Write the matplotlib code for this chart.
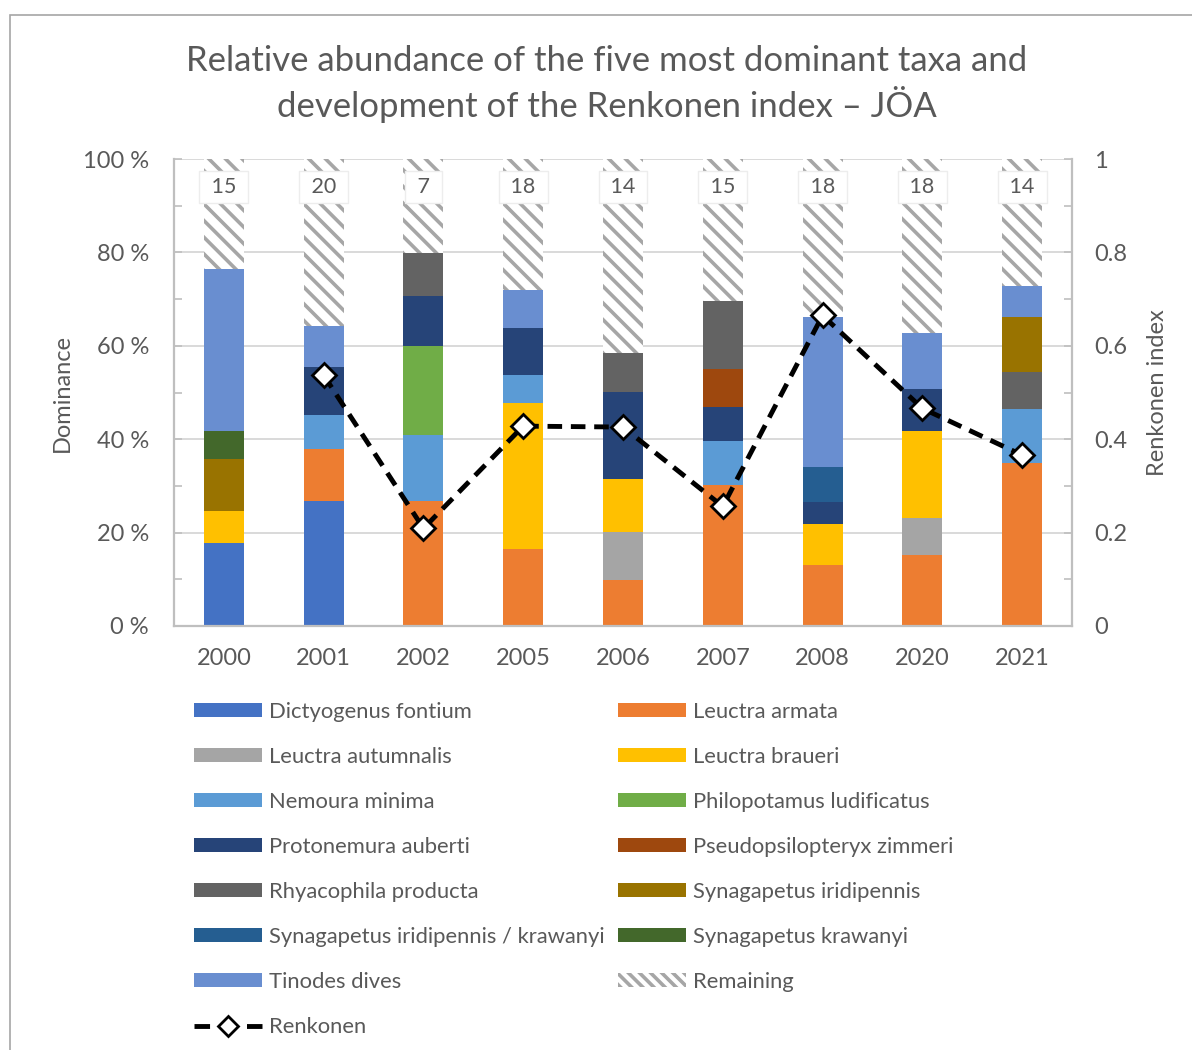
import matplotlib
matplotlib.use("Agg")
import matplotlib.pyplot as plt
import numpy as np
from matplotlib.patches import Patch, Rectangle
from matplotlib.lines import Line2D

plt.rcParams['font.family'] = ['Lato', 'DejaVu Sans']
plt.rcParams['hatch.linewidth'] = 2.6

years = ["2000", "2001", "2002", "2005", "2006", "2007", "2008", "2020", "2021"]

dictyogenus_fontium = [17.8, 26.8, 0, 0, 0, 0, 0, 0, 0]
leuctra_armata = [0, 11.0, 26.8, 16.4, 9.85, 30.2, 13.1, 15.2, 34.8]
leuctra_autumnalis = [0, 0, 0, 0, 10.35, 0, 0, 8.0, 0]
leuctra_braueri = [6.9, 0, 0, 31.3, 11.2, 0, 8.8, 18.6, 0]
nemoura_minima = [0, 7.4, 14.0, 6.0, 0, 9.5, 0, 0, 11.6]
philopotamus_ludificatus = [0, 0, 19.2, 0, 0, 0, 0, 0, 0]
protonemura_auberti = [0, 10.3, 10.7, 10.1, 18.7, 7.1, 4.7, 9.0, 0]
pseudopsilopteryx_zimmeri = [0, 0, 0, 0, 0, 8.3, 0, 0, 0]
rhyacophila_producta = [0, 0, 9.1, 0, 8.4, 14.6, 0, 0, 7.9]
synagapetus_iridipennis = [11.1, 0, 0, 0, 0, 0, 0, 0, 11.9]
synagapetus_irid_kraw = [0, 0, 0, 0, 0, 0, 7.5, 0, 0]
synagapetus_krawanyi = [6.0, 0, 0, 0, 0, 0, 0, 0, 0]
tinodes_dives = [34.6, 8.8, 0, 8.1, 0, 0, 32.1, 11.9, 6.7]
remaining = [23.6, 35.7, 20.2, 28.1, 41.5, 30.3, 33.8, 37.3, 27.1]
remaining_labels = [15, 20, 7, 18, 14, 15, 18, 18, 14]

renkonen = [np.nan, 0.537, 0.209, 0.428, 0.426, 0.256, 0.665, 0.466, 0.366]

taxa = [
    ("Dictyogenus fontium", dictyogenus_fontium, "#4472C4"),
    ("Leuctra armata", leuctra_armata, "#ED7D31"),
    ("Leuctra autumnalis", leuctra_autumnalis, "#A5A5A5"),
    ("Leuctra braueri", leuctra_braueri, "#FFC000"),
    ("Nemoura minima", nemoura_minima, "#5B9BD5"),
    ("Philopotamus ludificatus", philopotamus_ludificatus, "#70AD47"),
    ("Protonemura auberti", protonemura_auberti, "#264478"),
    ("Pseudopsilopteryx zimmeri", pseudopsilopteryx_zimmeri, "#9E480E"),
    ("Rhyacophila producta", rhyacophila_producta, "#636363"),
    ("Synagapetus iridipennis", synagapetus_iridipennis, "#997300"),
    ("Synagapetus iridipennis / krawanyi", synagapetus_irid_kraw, "#255E91"),
    ("Synagapetus krawanyi", synagapetus_krawanyi, "#43682B"),
    ("Tinodes dives", tinodes_dives, "#698ED0"),
]

TXT = "#595959"
W, H = 1192, 1050
fig = plt.figure(figsize=(W / 100, H / 100), dpi=100)

# chart border
fig.patches.append(Rectangle((10 / W, -0.1), 1.2, 1 - 15 / H + 0.1, transform=fig.transFigure,
                             fill=False, edgecolor="#A6A6A6", linewidth=1.2))

ax = fig.add_axes([174 / W, 1 - 626 / H, (1072 - 174) / W, (626 - 159) / H])
x = np.arange(len(years))
bottom = np.zeros(len(years))
handles = {}
for name, vals, color in taxa:
    vals = np.array(vals, dtype=float)
    ax.bar(x, vals, 0.4, bottom=bottom, color=color, linewidth=0, zorder=2)
    bottom += vals
    handles[name] = Patch(facecolor=color, edgecolor="none")

ax.bar(x, remaining, 0.4, bottom=bottom, facecolor="white", edgecolor="#A6A6A6",
       hatch="\\\\", linewidth=0, zorder=2)
handles["Remaining"] = Patch(facecolor="white", edgecolor="#A6A6A6", hatch="\\\\\\", linewidth=0)

# number of taxa shown on top of each bar
for xi, lab in zip(x, remaining_labels):
    ax.text(xi, 94, f" {lab} ", ha="center", va="center", fontsize=15.5, color=TXT, zorder=5,
            bbox=dict(boxstyle="square,pad=0.3", facecolor="white", edgecolor="#EDEDED", linewidth=1))

ax.set_xlim(-0.5, len(years) - 0.5)
ax.set_ylim(0, 100)
ax.set_yticks(np.arange(0, 101, 20))
ax.set_yticklabels([f"{v} %" for v in range(0, 101, 20)])
ax.set_yticks(np.arange(10, 100, 20), minor=True)
ax.set_xticks(x)
ax.set_xticklabels(years)
ax.grid(axis="y", color="#D9D9D9", linewidth=1.4, zorder=0)
ax.set_axisbelow(True)
for s in ["left", "bottom", "right"]:
    ax.spines[s].set_color("#BFBFBF")
    ax.spines[s].set_linewidth(1.6)
ax.spines["top"].set_visible(False)
ax.tick_params(axis="y", which="both", direction="in", length=6, width=1.2, color="#BFBFBF",
               labelsize=17, labelcolor=TXT, pad=18)
ax.tick_params(axis="x", length=0, labelsize=17, labelcolor=TXT, pad=15.5)
ax.set_ylabel("Dominance", fontsize=17, color=TXT, labelpad=7.5)

ax2 = ax.twinx()
ax2.set_ylim(0, 1)
ax2.set_yticks(np.arange(0, 1.01, 0.2))
ax2.set_yticklabels(["0", "0.2", "0.4", "0.6", "0.8", "1"])
ax2.set_yticks(np.arange(0.1, 1.0, 0.2), minor=True)
ax2.tick_params(axis="y", which="both", direction="in", length=6, width=1.2, color="#BFBFBF",
                labelsize=17, labelcolor=TXT, pad=16)
for s in ax2.spines.values():
    s.set_visible(False)
ax2.plot(x, renkonen, color="black", linewidth=3.5, linestyle=(0, (3, 1.8)),
         marker="D", markersize=12, markerfacecolor="white", markeredgecolor="black",
         markeredgewidth=2, zorder=6)
ax2.set_ylabel("Renkonen index", fontsize=17, color=TXT, labelpad=14)

fig.text(607 / W, 1 - 84 / H,
         "Relative abundance of the five most dominant taxa and\ndevelopment of the Renkonen index – JÖA",
         ha="center", va="center", fontsize=25, color=TXT, linespacing=1.27)

ren_handle = Line2D([], [], color="black", linewidth=3.5, linestyle=(0, (3.2, 7.6)),
                    marker="D", markersize=10, markerfacecolor="white", markeredgecolor="black",
                    markeredgewidth=2)

col1 = ["Dictyogenus fontium", "Leuctra autumnalis", "Nemoura minima", "Protonemura auberti",
        "Rhyacophila producta", "Synagapetus iridipennis / krawanyi", "Tinodes dives"]
col2 = ["Leuctra armata", "Leuctra braueri", "Philopotamus ludificatus",
        "Pseudopsilopteryx zimmeri", "Synagapetus iridipennis", "Synagapetus krawanyi", "Remaining"]

leg_kw = dict(loc="upper left", frameon=False, fontsize=15.8, labelcolor=TXT,
              handlelength=3.1, handleheight=0.6, handletextpad=0.32, labelspacing=1.14,
              borderpad=0, borderaxespad=0)
leg1 = fig.legend([handles[n] for n in col1] + [ren_handle], col1 + ["Renkonen"],
                  bbox_to_anchor=(194 / W, 1 - 702 / H), **leg_kw)
leg2 = fig.legend([handles[n] for n in col2], col2,
                  bbox_to_anchor=(618 / W, 1 - 702 / H), **leg_kw)

fig.savefig("out.png", dpi=100)
